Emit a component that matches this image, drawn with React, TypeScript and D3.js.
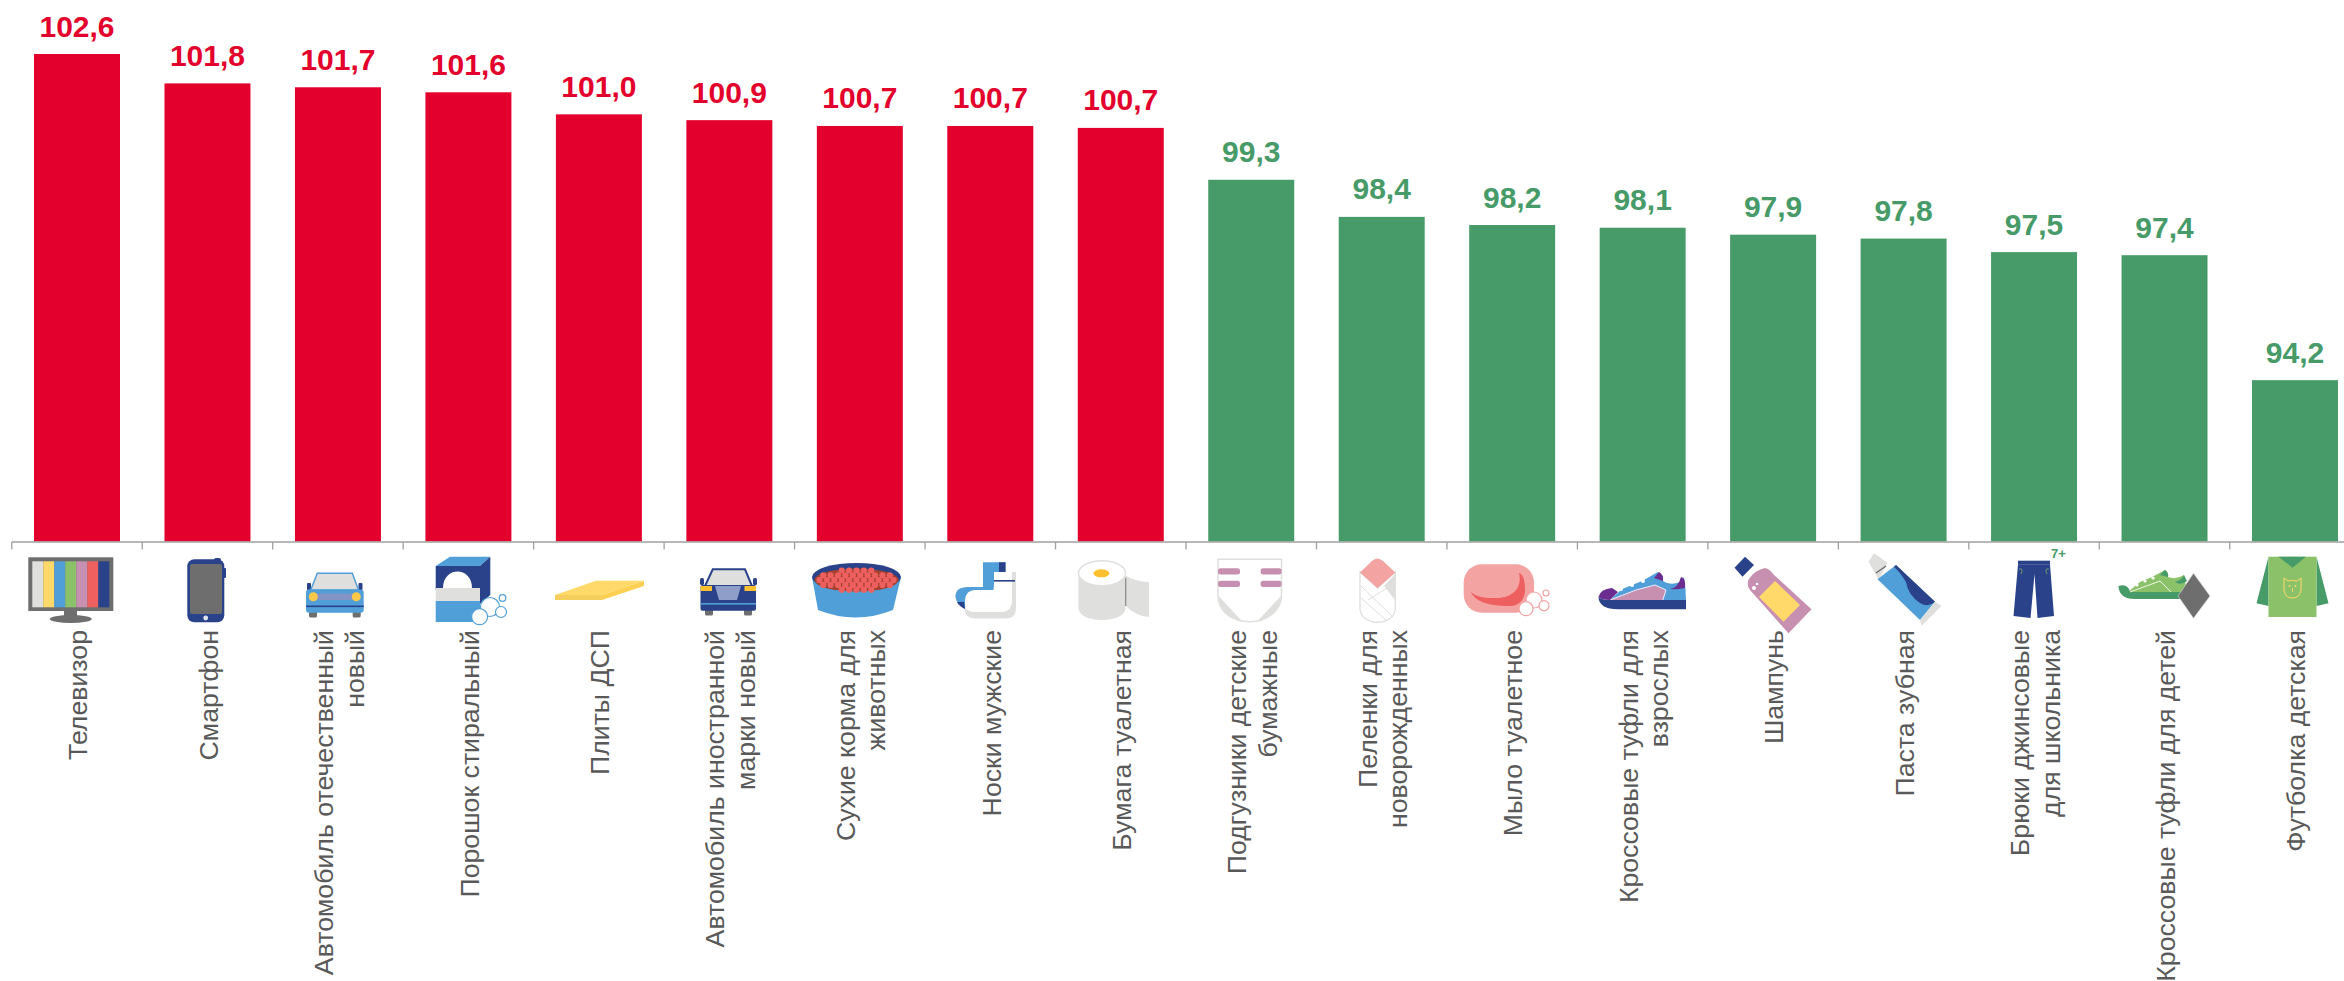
import React from "react";
import * as d3 from "d3";

const categories: string[][] = [
  ["Телевизор"],
  ["Смартфон"],
  ["Автомобиль отечественный", "новый"],
  ["Порошок стиральный"],
  ["Плиты ДСП"],
  ["Автомобиль иностранной", "марки новый"],
  ["Сухие корма для", "животных"],
  ["Носки мужские"],
  ["Бумага туалетная"],
  ["Подгузники детские", "бумажные"],
  ["Пеленки для", "новорожденных"],
  ["Мыло туалетное"],
  ["Кроссовые туфли для", "взрослых"],
  ["Шампунь"],
  ["Паста зубная"],
  ["Брюки джинсовые", "для школьника"],
  ["Кроссовые туфли для детей"],
  ["Футболка детская"],
];
const values = [102.6, 101.84, 101.74, 101.61, 101.04, 100.89, 100.74, 100.74, 100.69, 99.349, 98.39, 98.18, 98.11, 97.93, 97.83, 97.48, 97.4, 94.17];

const W = 2344, H = 981;
const RED = "#E3002C", GREEN = "#479B68";
const NAVY = "#2A4289", BLUE = "#519FD8", YEL = "#FFD96A", LG = "#8BC269", MAU = "#C78FB0", COR = "#EE6060", GR = "#6E6E6E", LGR = "#DFDFDD", PINK = "#F4A3A3", DG = "#469B69", PUR = "#6B2D90";
const FONT = "'Liberation Sans', Arial, sans-serif";

const STEP = 130.47;
const x = d3.scaleBand<number>().domain(d3.range(categories.length)).range([11.77, 11.77 + STEP * 18]).paddingInner(0.341).paddingOuter(0.1705);
const y = d3.scaleLinear().domain([90, 102.6]).range([541.5, 54]);
const fmt = (v: number) => v.toFixed(1).replace(".", ",");

const Tv = () => (
  <g>
    <rect x={64} y={610} width={13} height={8} fill={GR} />
    <ellipse cx={70.8} cy={619} rx={21} ry={4} fill={GR} />
    <rect x={28.3} y={557.3} width={85} height={53.7} fill={GR} />
    {[LGR, YEL, BLUE, LG, MAU, COR, NAVY].map((c, i) => <rect key={i} x={32.3 + i * 11} y={561.3} width={11} height={46} fill={c} />)}
  </g>
);
const Phone = () => (
  <g>
    <rect x={214} y={558} width={7} height={5} rx={2} fill={NAVY} />
    <rect x={223} y={568} width={3} height={10} rx={1} fill={NAVY} />
    <rect x={187.3} y={559.3} width={37} height={63} rx={7} fill={NAVY} />
    <rect x={190} y={564} width={32} height={50} rx={2} fill={GR} />
    <circle cx={205.7} cy={618} r={2.4} fill="#dfe4ee" />
  </g>
);
const Car1 = () => (
  <g>
    <rect x={309} y={610} width={8} height={7.5} rx={1.5} fill={GR} />
    <rect x={352.7} y={610} width={8} height={7.5} rx={1.5} fill={GR} />
    <rect x={307} y={583} width={4} height={7} rx={1} fill={NAVY} />
    <rect x={358.5} y={583} width={4} height={7} rx={1} fill={NAVY} />
    <path d="M310.7,590 L317.3,573.3 H352.3 L358.5,590 Z" fill={LGR} stroke={BLUE} strokeWidth={1.5} />
    <rect x={306} y={589.5} width={57.7} height={23.2} rx={3} fill={BLUE} />
    <rect x={317} y={593.5} width={36} height={6.5} fill="#8294C4" />
    <circle cx={313.3} cy={596.7} r={4.5} fill="#FDC94A" />
    <circle cx={356.3} cy={596.7} r={4.5} fill="#FDC94A" />
    <rect x={306} y={605.5} width={57.7} height={1.6} fill={NAVY} />
  </g>
);
const Powder = () => (
  <g>
    <path d="M435.7,566 L450,556.7 H490.3 L480,566 Z" fill={BLUE} />
    <path d="M480,566 L490.3,556.7 V595 L480,604 Z" fill={NAVY} />
    <rect x={435.7} y={566} width={44.3} height={24} fill={NAVY} />
    <path d="M443,588 C443,566 472,566 472,588 Z" fill="#fff" />
    <rect x={435.7} y={588} width={44.3} height={13} fill={LGR} />
    <rect x={435.7} y={601} width={44.3} height={21} fill={BLUE} />
    <g fill="#fff" stroke={BLUE} strokeWidth={1.2}>
      <circle cx={490} cy={607} r={9.5} />
      <circle cx={479.6} cy={616.7} r={8} />
      <circle cx={501} cy={612} r={5.5} />
      <circle cx={502.5} cy={598} r={3.3} />
    </g>
  </g>
);
const Plank = () => (
  <g>
    <path d="M555,595 L596,580.7 H644 L602,595 Z" fill={YEL} />
    <path d="M602,595 L644,580.7 V586 L602,600 Z" fill="#FCD052" />
    <rect x={555} y={595} width={47} height={5} fill="#F5CF5E" />
  </g>
);
const Car2 = () => (
  <g>
    <rect x={705} y={608} width={8} height={7.5} rx={1.5} fill={GR} />
    <rect x={744} y={608} width={8} height={7.5} rx={1.5} fill={GR} />
    <rect x={700} y={578} width={4} height={7} rx={1.5} fill={NAVY} />
    <rect x={753} y={578} width={4} height={7} rx={1.5} fill={NAVY} />
    <path d="M705,586 L712.8,569.3 H745 L752,586 Z" fill={LGR} stroke={NAVY} strokeWidth={2} />
    <rect x={700.5} y={585} width={55.5} height={25.7} rx={2} fill={NAVY} />
    <rect x={700.5} y={586} width={11.5} height={5} fill="#FDC12F" />
    <rect x={744.5} y={586} width={11.5} height={5} fill="#FDC12F" />
    <path d="M715,586 H741 L737,600 H719 Z" fill="#8E9EC9" />
    <rect x={700.5} y={603} width={55.5} height={1.6} fill={BLUE} />
  </g>
);
const bowlBalls: number[][] = [];
for (let r = 0; r < 5; r++) {
  for (let c = -6; c <= 6; c++) {
    const bx = 856.5 + (c + (r % 2 ? 0.5 : 0)) * 7.4;
    const by = 570.5 + r * 4.8;
    if (((bx - 856.5) / 39) ** 2 + ((by - 580) / 11.5) ** 2 < 1) bowlBalls.push([bx, by]);
  }
}
const Bowl = () => (
  <g>
    <path d="M812,577 L818,610 Q855.5,625 893,610 L901,577 Z" fill={BLUE} />
    <ellipse cx={856.5} cy={577} rx={44.5} ry={14} fill={NAVY} />
    <ellipse cx={856.5} cy={580} rx={42} ry={11.5} fill="#A5402F" />
    {bowlBalls.map((b, i) => <circle key={i} cx={b[0]} cy={b[1]} r={3.1} fill={COR} />)}
  </g>
);
const Sock = () => (
  <g>
    <path d="M983,562.3 H1005.5 V590 H975 Q966,590 965,600 L965,609 Q956,604 955.5,597 Q955,587 968,587 H983 Z" fill={BLUE} />
    <rect x={999} y={562.3} width={6.5} height={10} fill={NAVY} />
    <path d="M957,602 L964,602 L965,609 Q959,606 957,602 Z" fill={NAVY} />
    <path d="M998,572 H1016 V608 Q1016,618.5 1006,618.5 H975 Q965,618 965,610 Q965,597 975,597 H985 Q994,597 994,585 V572 Z" fill={LGR} />
    <path d="M994,572 H1012 V600 Q1012,612 1001,612 H975 Q965,612 965,605 Q965,597 975,597 H985 Q994,597 994,585 Z" fill="#fff" />
    <rect x={994} y={580} width={21} height={1.6} fill={NAVY} />
  </g>
);
const Roll = () => (
  <g>
    <path d="M1125,575 Q1135,582 1149,582 V617 Q1135,616 1125,605 Z" fill={LGR} />
    <path d="M1078.5,573 V608 C1078.5,624 1125.4,624 1125.4,608 V573 Z" fill={LGR} />
    <ellipse cx={1102} cy={573.3} rx={23.5} ry={12.5} fill="#fff" stroke={LGR} strokeWidth={1.5} />
    <ellipse cx={1101.4} cy={573.3} rx={8} ry={4} fill="#FDC12F" />
    <line x1={1125.7} y1={578} x2={1125.7} y2={606} stroke="#888" strokeWidth={1.2} />
  </g>
);
const Diaper = () => (
  <g>
    <path d="M1218,559.3 H1281.5 V596 C1281,610 1268,621.7 1250,621.7 C1231,621.7 1218,610 1218,596 Z" fill="#fff" stroke={LGR} strokeWidth={1.5} />
    <path d="M1218.5,596 L1241.5,620.5 C1229,619 1219,609 1218.5,596 Z M1281,596 L1258,620.5 C1270,619 1281,609 1281,596 Z" fill={LGR} />
    {[568.3, 580.7].map((t) => (
      <g key={t} fill={MAU}>
        <rect x={1218} y={t} width={22} height={6.3} rx={2.5} />
        <rect x={1260.6} y={t} width={21} height={6.3} rx={2.5} />
      </g>
    ))}
  </g>
);
const Swaddle = () => (
  <g>
    <path d="M1360,572 V608 C1360,627 1395.3,627 1395.3,608 V572 L1377.5,588 Z" fill="#fff" stroke={LGR} strokeWidth={1.3} />
    <path d="M1395,574 V600 L1384,586 Z" fill={LGR} />
    <path d="M1361,598 L1387,621 M1361,586 L1393,617 M1368,600 L1390,586" stroke={LGR} strokeWidth={1} fill="none" />
    <path d="M1360,572.5 L1372,561 Q1377,556 1383,561 L1395.3,572.5 L1377.5,588 Z" fill={PINK} />
  </g>
);
const Soap = () => (
  <g>
    <rect x={1463.7} y={564.3} width={70.3} height={48.4} rx={18} fill={PINK} />
    <path d="M1471,592 C1476,604 1495,606 1510,606 C1522,606 1525,596 1525,590 C1525,580 1523,574 1519,573 C1523,590 1510,598 1497,598 C1486,598 1478,598 1471,592 Z" fill={COR} />
    <g fill="#fff" stroke={PINK} strokeWidth={1.2}>
      <circle cx={1534} cy={600} r={8} />
      <circle cx={1526} cy={608.7} r={7} />
      <circle cx={1544} cy={605.7} r={5} />
      <circle cx={1546} cy={593} r={3} />
    </g>
  </g>
);
const Shoe1 = () => (
  <g>
    <path d="M1610,600 L1622,589 L1642,581 L1658,572 Q1664,575 1663,581 Q1670,586 1680,582 L1684,577 Q1686,590 1686,601 Z" fill={BLUE} />
    <path d="M1610,600 L1636,590 L1655,585 L1666,590 L1662.5,601 H1610 Z" fill={MAU} stroke="#eef" strokeWidth={1} />
    <path d="M1598.5,597 Q1599,609.3 1618,609.3 H1686 V600 H1610 Q1601,600 1598.5,597 Z" fill={NAVY} />
    <path d="M1598.5,597 Q1600,589 1612,588 L1618,592 L1610,600 Q1601,600 1598.5,597 Z" fill={PUR} />
    <path d="M1670,589 Q1678,588 1681,577 Q1686,578 1685,588 Q1676,590 1670,589 Z" fill={PUR} />
    <path d="M1654,578 L1659,572 Q1664,575 1663,581 Z" fill={PUR} />
    <g fill="#fff"><circle cx={1621} cy={589} r={2} /><circle cx={1632} cy={585} r={2} /><circle cx={1643} cy={581} r={2} /></g>
  </g>
);
const Bottle = () => (
  <g>
    <path d="M1745,556.7 L1754,565 L1742.5,576.7 L1734.5,567.7 Z" fill={NAVY} />
    <path d="M1749,579 Q1755,570 1765,568 Q1770,569 1773,574 L1811.5,609.3 L1788.5,633.3 L1750,590 Q1746,584 1749,579 Z" fill={MAU} />
    <path d="M1775,581 L1800,605 L1783.5,621.7 L1759,597 Z" fill={YEL} />
    <circle cx={1754} cy={588} r={2} fill="#fff" />
    <circle cx={1757} cy={584} r={1.3} fill="#fff" />
  </g>
);
const Paste = () => (
  <g>
    <path d="M1868.5,561.7 L1874,553.3 L1887.5,562.7 L1879,580 Z" fill={LGR} />
    <path d="M1876,573 L1886,566" stroke={GR} strokeWidth={1.5} />
    <path d="M1877.5,579.3 L1896,565 L1935,601.7 L1920,620 Z" fill={BLUE} />
    <path d="M1896,565 L1935,601.7 Q1928,608 1920,603 Q1908,595 1906,582 Q1900,572 1894,567 Z" fill={NAVY} />
    <path d="M1935,601.7 L1941.5,606 L1921.5,626 L1920,620 Z" fill={LGR} />
  </g>
);
const Jeans = () => (
  <g>
    <rect x={2018} y={560.7} width={32} height={4} fill={NAVY} />
    <path d="M2018,564.5 H2050 L2054,616 L2037.5,618 L2034.5,574 L2030.5,618 L2013.5,616 Z" fill={NAVY} />
    <path d="M2019,569 Q2024,568 2021,574 M2049,569 Q2044,568 2047,574" stroke={LG} strokeWidth={0.7} fill="none" />
    <text x={2051} y={558} fontFamily="'Liberation Sans Narrow', 'Liberation Sans', sans-serif" fontWeight={700} fontSize={13} fill={GREEN}>7+</text>
  </g>
);
const Shoe2 = () => (
  <g>
    <path d="M2128,592 L2140,582 L2152,577 L2165,570 Q2169,573 2168,577 Q2176,580 2184,575 L2187,592 Z" fill={LG} />
    <path d="M2118.5,586 Q2119,599 2135,599 H2182 V592 H2130 Q2128,583 2118.5,586 Z" fill={DG} />
    <path d="M2130,592 L2160,581 L2171,592" fill="none" stroke="#eef5e8" strokeWidth={1} />
    <path d="M2165,570 Q2169,573 2168,577 L2160,575 Z M2175,582 Q2182,580 2184,575 L2187,581 Q2180,586 2175,582 Z" fill={DG} />
    <g fill="#fff"><circle cx={2137} cy={585} r={1.6} /><circle cx={2145} cy={581} r={1.6} /><circle cx={2153} cy={578} r={1.6} /></g>
    <path d="M2193.5,573.3 L2210,596 L2193.5,618.3 L2178,596 Z" fill={GR} stroke="#ddd" strokeWidth={0.6} />
  </g>
);
const Shirt = () => (
  <g>
    <path d="M2268.5,556.7 L2256.5,603.3 L2268.5,606 Z M2316.5,556.7 L2328.5,603.3 L2316.5,606 Z" fill={DG} />
    <rect x={2268.5} y={556.7} width={48} height={60.3} fill={LG} />
    <path d="M2278.5,556.7 L2292.5,567.7 L2306,556.7 Z" fill={DG} />
    <path d="M2284,578 L2288,581 Q2292.5,580 2297,581 L2301,578 L2301,590 Q2300,598 2292.5,598 Q2285,598 2284,590 Z" fill="none" stroke={YEL} strokeWidth={1} />
    <circle cx={2289.5} cy={586} r={0.9} fill={YEL} /><circle cx={2295.5} cy={586} r={0.9} fill={YEL} />
    <path d="M2292.5,588 V592" stroke={YEL} strokeWidth={0.9} />
  </g>
);
const icons = [Tv, Phone, Car1, Powder, Plank, Car2, Bowl, Sock, Roll, Diaper, Swaddle, Soap, Shoe1, Bottle, Paste, Jeans, Shoe2, Shirt];

export default function App() {
  const bw = x.bandwidth();
  const step = x.step();
  const ticks = d3.range(categories.length + 1).map((i) => 11.77 + i * step);
  return (
    <svg width={W} height={H} viewBox={`0 0 ${W} ${H}`} style={{ position: "absolute", left: 0, top: 0, background: "#fff" }}>
      {values.map((v, i) => (
        <rect key={i} x={x(i)} y={y(v)} width={bw} height={y(90) - y(v)} fill={i < 9 ? RED : GREEN} />
      ))}
      <line x1={11.77} x2={W} y1={542} y2={542} stroke="#A0A0A0" strokeWidth={1.6} />
      {ticks.map((t) => <line key={t} x1={t} x2={t} y1={542} y2={549.5} stroke="#A0A0A0" strokeWidth={1.3} />)}
      {values.map((v, i) => (
        <text key={i} x={x(i)! + bw / 2} y={y(v) - 17.5} textAnchor="middle" fontFamily={FONT} fontWeight={700} fontSize={30} fill={i < 9 ? RED : GREEN}>{fmt(v)}</text>
      ))}
      {icons.map((I, i) => <I key={i} />)}
      {categories.map((lines, i) => {
        const cx = x(i)! + bw / 2;
        const base = lines.length === 1 ? cx + 10.3 : cx - 5;
        return lines.map((l, j) => (
          <text key={j} transform={`translate(${base + j * 30.6},630) rotate(-90)`} textAnchor="end" fontFamily={FONT} fontSize={26.7} fill="#595959">{l}</text>
        ));
      })}
    </svg>
  );
}
